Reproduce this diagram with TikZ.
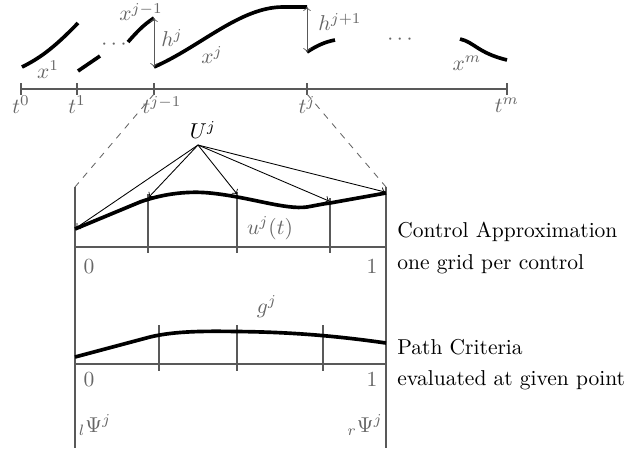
\documentclass[tikz,border=0pt]{standalone}

\begin{document}
\begin{tikzpicture}[
    x=0.465pt, y=-0.465pt,
    axis/.style={black!65, line width=0.9pt},
    curve/.style={line width=1.7pt},
    lbl/.style={black!60},
    txt/.style={anchor=west, inner xsep=0pt},
    ptr/.style={->, thin},
    gap/.style={<->, black!65, thin},
    link/.style={dashed, black!60, thin}
]
\useasboundingbox (0,0) rectangle (628,453);

% time axis
\coordinate (t0) at (21,89);
\coordinate (t1) at (77,89);
\coordinate (tjm) at (154,89);
\coordinate (tj) at (307,89);
\coordinate (tm) at (507,89);
\draw[axis] (t0) -- (tm);
\foreach \t in {t0,t1,tjm,tj,tm}
    \draw[axis] (\t) ++(0,-6) -- ++(0,12);

\node[lbl] (lt0) at (21,105) {$t^0$};
\node[lbl] (lt1) at (77,105) {$t^1$};
\node[lbl] (ltjm) at (162,105) {$t^{j-1}$};
\node[lbl] (ltj) at (307,105) {$t^j$};
\node[lbl] (ltm) at (507,105) {$t^m$};

% trajectory pieces
\coordinate (xjmend) at (154,18);
\coordinate (xjstart) at (154,67);
\coordinate (xjend) at (307,7);
\coordinate (xjpstart) at (307,52);

\draw[curve] (22,67) .. controls (38,59) and (52,50) .. (78,23);
\draw[curve] (78,71) -- (100,56);
\node[lbl] (dots1) at (114,45) {$\cdots$};
\draw[curve] (128,42) .. controls (136,33) and (143,25) .. (xjmend);
\draw[curve] (xjstart) .. controls (200,47) and (240,7) .. (283,7) -- (xjend);
\draw[curve] (xjpstart) .. controls (318,45) and (325,42) .. (335,40);
\node[lbl] (dots2) at (400,40) {$\cdots$};
\draw[curve] (460,39) .. controls (474,42) and (478,53) .. (507,60);

\draw[gap] (xjmend) -- (xjstart);
\draw[gap] (xjend) -- (xjpstart);

\node[lbl] (lx1) at (48,70) {$x^1$};
\node[lbl] (lxjm) at (141,12) {$x^{j-1}$};
\node[lbl] (lhj) at (172,38) {$h^j$};
\node[lbl] (lxj) at (212,55) {$x^j$};
\node[lbl] (lhjp) at (340,22) {$h^{j+1}$};
\node[lbl] (lxm) at (467,63) {$x^m$};

% zoomed interval
\coordinate (boxtl) at (75,187);
\coordinate (boxbl) at (75,448);
\coordinate (boxtr) at (386,187);
\coordinate (boxbr) at (386,448);
\draw[link] (tjm) ++(0,5) -- (boxtl);
\draw[link] (tj) ++(0,5) -- (boxtr);
\draw[axis] (boxtl) -- (boxbl);
\draw[axis] (boxtr) -- (boxbr);

% control approximation
\draw[axis] (75,247) -- (386,247);
\draw[axis] (148,194) -- (148,253);
\draw[axis] (237,192) -- (237,253);
\draw[axis] (330,198) -- (330,253);
\draw[curve] (75,229) -- (140,202) .. controls (165,193) and (190,191) .. (210,193)
    .. controls (250,197) and (285,210) .. (307,207)
    .. controls (318,205) and (322,204) .. (330,203) -- (386,193);

\coordinate (c0) at (76,228);
\coordinate (c1) at (149,197);
\coordinate (c2) at (237,194);
\coordinate (c3) at (329,201);
\coordinate (c4) at (385,192);
\node (U) at (203,130) {$U^j$};
\coordinate (src) at (198,145);
\foreach \c in {c0,c1,c2,c3,c4}
    \draw[ptr] (src) -- (\c);

\node[lbl] (lu) at (270,228) {$u^j(t)$};
\node[lbl] (lu0) at (89,267) {$0$};
\node[lbl] (lu1) at (372,267) {$1$};
\node[txt] (ca) at (397,232) {Control Approximation};
\node[txt] (cb) at (397,264) {one grid per control};

% path criteria
\draw[axis] (75,364) -- (386,364);
\draw[axis] (159,325) -- (159,371);
\draw[axis] (237,325) -- (237,371);
\draw[axis] (323,325) -- (323,371);
\draw[curve] (75,357) -- (150,337) .. controls (175,331) and (205,331) .. (237,331.5)
    .. controls (285,332) and (330,335) .. (386,343);

\node[lbl] (lg) at (267,307) {$g^j$};
\node[lbl] (lg0) at (89,380) {$0$};
\node[lbl] (lg1) at (372,380) {$1$};
\node[txt] (pa) at (397,347) {Path Criteria};
\node[txt] (pb) at (397,380) {evaluated at given point};

\node[lbl] (psil) at (95,425) {${}_l\Psi^j$};
\node[lbl] (psir) at (365,425) {${}_r\Psi^j$};

\end{tikzpicture}
\end{document}
